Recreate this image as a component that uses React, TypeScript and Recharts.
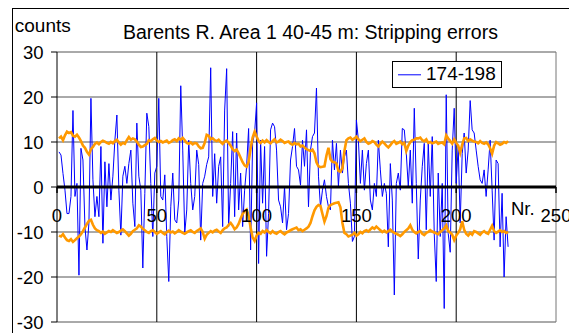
import React from 'react';
import { LineChart, Line, XAxis, YAxis, ReferenceLine, ReferenceDot, Legend } from 'recharts';

const seriesName = '174-198';
const chartTitle = 'Barents R. Area 1 40-45 m: Stripping errors';
const yTitle = 'counts';
const xTitle = 'Nr.';

const xTicks = [0, 50, 100, 150, 200, 250];
const yTicks = [-30, -20, -10, 0, 10, 20, 30];

const counts: number[] = [
  7.8, 7.1, 3, -0.7, -5.9, -5.9, -2.1, 17, -2.1, 0.8,
  -19.6, 8.6, 6, -8.8, -14, -8, 19.7, 1.6, -6.6, -2.1,
  -6.6, 9, -12.5, 5.6, -4.4, 5.2, -2.9, 2.4, 10.4, 16,
  -0.7, -10.7, 2.4, 4.6, 0.8, 5.2, 8.2, -3.6, -8.8,
  14.2, 2.4, -0.7, -18, -1.4, 16.4, 13.4, 0.8, -11, 3.1,
  4.6, 19.7, -2.1, -2.9, 2.7, -11, -21, -4.4, 3.1, -7.3,
  -8, -2.9, 22.5, 8.2, -10.3, -5.1, 10.4, 0.8, -5.1, -2.1,
  8.2, 5, -11.8, 0.8, 2.4, 5, 6.7, 26.5,
  -2.1, 7.4, -3.6, 4.6, 6.7, -8.8, 17.1, 26.3, -8.8, 0.8,
  12.3, -6.6, 12, -5.1, 3.1, -8.8, -0.7, 4.6, 13, -14,
  9.7, 12, 18.7, -17, 10.4, -3.6, 9, -15.4, -5.9, 12.7,
  14.2, 13.4, 8.2, -2.9, -4.4, -8, 0.1, -9.5, -5.9,
  6, 9, 13, 4.6, 3.8, 0.4, 10.4, 4.6, 12.7, -4.4,
  8.2, 11.2, 12, 22, 2.4, -4.4, -0.7, 1.6, -2.1, -4.4,
  -5.1, 10.4, 3.8, 9.7, 0.1, 8.2, 3.1, 6.7, 8.2, 0.8,
  -3.6, -12.1, -11, 14.9, 10.4, 0.8, 8.2, -0.7, 5.2,
  8.2, -2.9, -5.1, 0.8, -2.1, 10.4, 3.8, -2.1, 0.8, -1.4,
  -13.3, 5.2, -2.9, -24, 0.8, 3.1, -0.7, 13, 12.7, 7.4,
  0.1, 8.2, -3.6, 17.5, 0.8, -16, -2.9, 4.6, 9.7, -9.5,
  9.7, -2.1, 11.2, -10.3, -21, 3.1, -11, 0.8, -27, 20.5,
  -10.3, -14.5, 8.2, 17.5, 0.8, 9, -8, 7.4, 12, 3.1,
  8.2, 19.2, 12.7, 12, 8.2, 4.6, 1.6, 0.8, 3.8, -2.1,
  3.8, 10.4, -0.7, -11.8, 6, 5.2, -13.3, -1.4, -20, -6.6,
  -13.3,
];

const upper: number[] = [
  10.8, 11.2, 10.4, 11.5, 12.3, 12.0, 12.2, 11.4, 11.2, 11.6,
  11.0, 10.2, 9.2, 8.7, 7.8, 7.2, 8.4, 8.9, 9.6, 9.9,
  9.5, 10.0, 10.3, 10.1, 9.8, 9.6, 10.0, 9.7, 10.2, 10.5,
  9.9, 9.4, 9.8, 9.6, 10.4, 11.1, 10.5, 10.8, 10.6, 10.1,
  9.4, 8.9, 9.0, 9.3, 9.6, 10.4, 10.2, 10.6, 10.9, 10.3,
  10.0, 10.2, 9.9, 10.1, 10.3, 9.8, 10.0, 10.4, 10.6, 10.2,
  10.8, 10.5, 10.9, 10.4, 9.8, 9.6, 9.9, 9.5, 9.8, 9.7,
  9.0, 8.6, 8.7, 9.8, 11.6, 11.4, 10.6, 10.8, 10.4, 10.2,
  10.5, 10.0, 9.6, 10.1, 10.3, 9.8, 9.2, 8.4, 8.0, 8.3,
  7.5, 6.5, 5.5, 4.8, 4.5, 5.6, 8.5, 11.0, 12.3, 11.2,
  10.2, 9.8, 10.3, 9.9, 10.4, 10.0, 9.7, 10.2, 10.6, 9.9,
  10.1, 10.5, 10.2, 9.8, 10.0, 10.1, 9.6, 9.4, 9.8, 9.5,
  9.6, 9.0, 9.2, 8.8, 8.4, 8.2, 8.0, 8.3, 7.5, 5.5,
  4.6, 4.4, 4.5, 4.6, 7.0, 8.7, 6.2, 5.6, 5.5, 5.2,
  3.6, 3.4, 4.2, 8.0, 10.4, 10.8, 11.0, 10.5, 10.8, 11.2,
  10.6, 10.2, 10.5, 10.8, 10.0, 9.6, 9.8, 10.2, 10.0, 9.4,
  9.0, 9.6, 10.1, 9.7, 9.2, 8.8, 9.3, 9.9, 10.2, 9.6,
  9.8, 10.1, 9.5, 9.8, 8.0, 9.2, 10.0, 10.4, 10.5, 10.8,
  10.8, 11.0, 10.4, 10.2, 10.6, 9.8, 10.0, 9.7, 9.9, 10.1,
  9.6, 9.8, 9.9, 9.5, 11.5, 10.8, 10.2, 9.6, 10.6, 9.8,
  9.2, 7.6, 9.4, 10.8, 10.9, 10.2, 10.6, 10.3, 10.1, 10.0,
  9.7, 10.2, 9.8, 9.6, 9.9, 9.5, 8.6, 7.4, 9.2, 10.0,
  9.7, 9.4, 9.6, 10.0, 9.8, 10.2,
];

const lower: number[] = [
  -10.8, -11.0, -10.5, -11.2, -11.8, -12.0, -11.6, -12.2, -11.8, -11.4,
  -11.0, -10.5, -9.8, -9.0, -8.2, -7.5, -7.3, -8.4, -9.2, -9.6,
  -9.8, -10.2, -9.9, -10.4, -10.1, -9.8, -10.0, -9.6, -9.9, -10.2,
  -10.0, -9.7, -9.4, -9.8, -10.3, -10.8, -10.4, -9.8, -9.5, -9.2,
  -8.5, -8.8, -9.3, -9.6, -10.0, -10.2, -9.8, -9.6, -10.0, -10.4,
  -10.1, -9.8, -10.2, -10.5, -10.0, -9.7, -10.1, -9.9, -10.3, -10.0,
  -9.6, -9.9, -10.2, -10.4, -10.1, -9.8, -9.6, -10.0, -10.2, -9.8,
  -9.5, -9.2, -10.0, -11.5, -10.6, -10.2, -9.8, -10.1, -9.7, -9.5,
  -9.9, -10.2, -9.6, -9.2, -9.0, -8.4, -8.0, -8.6, -9.4, -9.0,
  -8.2, -7.0, -6.0, -5.4, -5.0, -6.4, -9.0, -11.2, -12.0, -10.8,
  -10.2, -10.4, -9.8, -10.1, -9.6, -10.0, -10.3, -9.8, -10.2, -10.4,
  -10.0, -9.8, -10.2, -10.5, -10.1, -9.9, -9.6, -9.4, -9.2, -9.0,
  -9.6, -9.4, -9.8, -9.5, -9.2, -8.8, -8.0, -6.5, -5.2, -4.4,
  -4.0, -4.2, -6.0, -7.7, -6.5, -4.6, -4.0, -3.8, -3.6, -3.5,
  -3.4, -4.5, -8.0, -10.2, -10.5, -11.0, -10.8, -10.6, -10.2, -10.8,
  -10.5, -10.0, -10.3, -9.8, -9.6, -9.9, -9.4, -9.0, -9.3, -8.8,
  -9.2, -9.6, -10.0, -9.7, -10.1, -9.8, -9.5, -9.9, -10.2, -10.4,
  -10.6, -10.9, -10.5, -10.0, -9.6, -9.2, -8.5, -9.5, -10.0, -10.3,
  -10.0, -9.8, -10.4, -10.7, -10.2, -10.0, -9.6, -9.9, -10.1, -10.3,
  -10.5, -10.0, -9.6, -9.2, -8.5, -9.8, -10.1, -10.6, -11.8, -10.8,
  -10.2, -9.4, -7.6, -9.5, -10.4, -10.8, -10.2, -10.6, -9.8, -10.0,
  -10.3, -10.6, -10.1, -9.8, -10.2, -10.4, -9.5, -8.6, -9.8, -10.2,
  -9.9, -9.6, -10.0, -9.8, -10.2, -10.0,
];

const data = counts.map((v, i) => ({ nr: i + 1, v, hi: upper[i], lo: lower[i] }));

const FONT = '"Liberation Sans", Arial, sans-serif';

const XTickShape = (props: any) => {
  const { cx, cy, tick } = props;
  if (cx == null || cy == null) return null;
  return (
    <g>
      <line x1={cx} y1={cy} x2={cx} y2={cy + 6} stroke="#000" strokeWidth={1.5} />
      <text x={cx} y={cy + 35} textAnchor="middle" fontFamily={FONT} fontSize={18.5} fill="#000">
        {tick}
      </text>
    </g>
  );
};

const LegendBox = (props: any) => {
  const items = (props.payload || []).filter((p: any) => p.type !== 'none');
  return (
    <div>
      {items.map((it: any) => (
        <div
          key={it.value}
          style={{
            position: 'relative',
            width: 108,
            height: 25,
            border: '1px solid #000',
            background: '#fff',
            fontFamily: FONT,
            fontSize: 19,
            color: '#000',
          }}
        >
          <svg width={30} height={25} style={{ position: 'absolute', left: 0, top: 0 }}>
            <line x1={5} y1={12.8} x2={28} y2={12.8} stroke={it.color} strokeWidth={1} />
          </svg>
          <span style={{ position: 'absolute', left: 33, top: 2, lineHeight: '20px', whiteSpace: 'nowrap' }}>
            {it.value}
          </span>
        </div>
      ))}
    </div>
  );
};

export default function App() {
  return (
    <div style={{ position: 'relative', width: 569, height: 325, overflow: 'hidden', background: '#fff' }}>
      <LineChart
        width={569}
        height={325}
        data={data}
        margin={{ top: 44, right: 21, bottom: 11, left: 0 }}
      >
        <XAxis dataKey="nr" type="number" domain={[0, 250]} ticks={xTicks} hide />
        <YAxis
          type="number"
          domain={[-30, 30]}
          ticks={yTicks}
          width={49}
          interval={0}
          axisLine={{ stroke: '#000', strokeWidth: 1 }}
          tickLine={{ stroke: '#000' }}
          tickSize={6}
          tickMargin={7.5}
          tick={{ fill: '#000', fontSize: 18.5, fontFamily: FONT }}
        />
        {yTicks.filter((t) => t !== 0).map((t) => (
          <ReferenceLine key={'h' + t} y={t} stroke="#555" strokeWidth={1} />
        ))}
        {xTicks.filter((t) => t !== 0).map((t) => (
          <ReferenceLine key={'v' + t} x={t} stroke={t === 250 ? '#777' : '#000'} strokeWidth={1} />
        ))}
        <Line
          type="linear"
          dataKey="v"
          name={seriesName}
          stroke="#0000ff"
          strokeWidth={1}
          dot={false}
          isAnimationActive={false}
        />
        <Line
          type="linear"
          dataKey="hi"
          stroke="#ff9900"
          strokeWidth={2.6}
          dot={false}
          legendType="none"
          isAnimationActive={false}
        />
        <Line
          type="linear"
          dataKey="lo"
          stroke="#ff9900"
          strokeWidth={2.6}
          dot={false}
          legendType="none"
          isAnimationActive={false}
        />
        <ReferenceLine y={0} stroke="#000" strokeWidth={3} />
        {xTicks.map((t) => (
          <ReferenceDot
            key={'xt' + t}
            x={t}
            y={0}
            r={1}
            ifOverflow="visible"
            shape={(p: any) => <XTickShape {...p} tick={t} />}
          />
        ))}
        <Legend
          layout="horizontal"
          verticalAlign="middle"
          align="center"
          content={<LegendBox />}
          wrapperStyle={{ position: 'absolute', left: 384, top: 53, width: 'auto', height: 'auto' }}
        />
      </LineChart>
      <svg
        width={569}
        height={325}
        style={{ position: 'absolute', left: 0, top: 0, pointerEvents: 'none' }}
      >
        <rect x={4.5} y={0.5} width={562} height={400} fill="none" stroke="#000" strokeWidth={1} />
        <text x={6.8} y={23.7} fontFamily={FONT} fontSize={19} fill="#000">
          {yTitle}
        </text>
        <text x={302.4} y={30.5} textAnchor="middle" fontFamily={FONT} fontSize={19.5} fill="#000">
          {chartTitle}
        </text>
        <text x={503} y={207} fontFamily={FONT} fontSize={18.5} fill="#000">
          {xTitle}
        </text>
      </svg>
    </div>
  );
}
